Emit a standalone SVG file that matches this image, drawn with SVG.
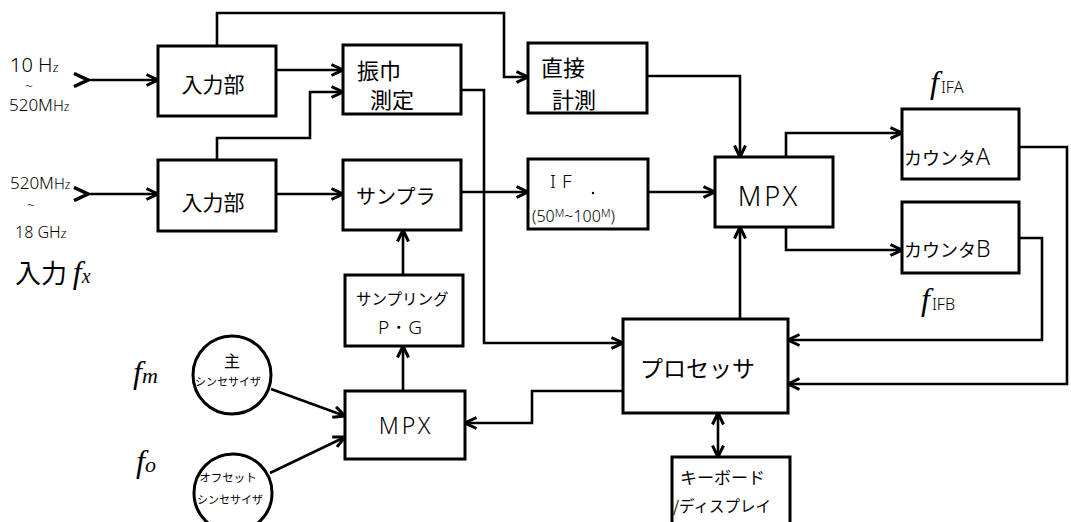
<svg xmlns="http://www.w3.org/2000/svg" width="1071" height="522" viewBox="0 0 1071 522">
<style>
.box{fill:#fff;stroke:#000;stroke-width:3}
.ln{fill:none;stroke:#000;stroke-width:2.6;stroke-linejoin:miter}
.arr{marker-end:url(#ah)}
.jp{font-family:"Noto Sans CJK JP","Noto Sans",sans-serif;fill:#000}
.lat{font-family:"Noto Sans","DejaVu Sans",sans-serif;fill:#000;font-weight:300}
.fi{font-family:"Liberation Serif",serif;font-style:italic;fill:#000}
</style>
<defs>
<marker id="ah" viewBox="0 0 14 14" refX="12.5" refY="7" markerWidth="14" markerHeight="14" markerUnits="userSpaceOnUse" orient="auto-start-reverse">
<path d="M1,1.5 L12.5,7 L1,12.5" fill="none" stroke="#000" stroke-width="3"/>
</marker>
<marker id="tl" viewBox="0 0 16 16" refX="15" refY="8" markerWidth="16" markerHeight="16" markerUnits="userSpaceOnUse" orient="auto">
<path d="M1,1.5 L15,8 L1,14.5" fill="none" stroke="#000" stroke-width="3.5"/>
</marker>
</defs>
<rect width="1071" height="522" fill="#fff"/>

<g id="connectors">
<path class="ln arr" d="M88,80 H158" style="marker-start:url(#tl)"/>
<path class="ln arr" d="M88,194 H158" style="marker-start:url(#tl)"/>
<path class="ln arr" d="M217,46 V13 H504 V77 H528"/>
<path class="ln arr" d="M276,70 H343"/>
<path class="ln arr" d="M217,160 V138 H310 V92 H343"/>
<path class="ln arr" d="M276,194 H343"/>
<path class="ln arr" d="M461,90 H484 V343 H623"/>
<path class="ln arr" d="M461,192 H528"/>
<path class="ln arr" d="M647,76 H740 V157"/>
<path class="ln arr" d="M648,192 H715"/>
<path class="ln arr" d="M786,157 V133 H902"/>
<path class="ln arr" d="M786,227 V250 H902"/>
<path class="ln arr" d="M1019,147 H1067 V384 H788"/>
<path class="ln arr" d="M1019,238 H1042 V340 H788"/>
<path class="ln arr" d="M740,319 V227"/>
<path class="ln arr" d="M623,391 H532 V423 H465"/>
<path class="ln arr" d="M718,413 V457" style="marker-start:url(#ah)"/>
<path class="ln arr" d="M403,275 V230"/>
<path class="ln arr" d="M403,391 V346"/>
<path class="ln arr" d="M271,389 L345,416"/>
<path class="ln arr" d="M270,473 L345,437"/>
</g>

<g id="labels">
<text class="lat" x="10" y="72" font-size="20">10 H<tspan font-size="13">z</tspan></text>
<text class="lat" x="25" y="91" font-size="14">~</text>
<text class="lat" x="9" y="111" font-size="17">520M<tspan font-size="15">H</tspan><tspan font-size="12">z</tspan></text>
<text class="lat" x="10" y="189" font-size="17">520M<tspan font-size="15">H</tspan><tspan font-size="12">z</tspan></text>
<text class="lat" x="27" y="210" font-size="14">~</text>
<text class="lat" x="15" y="238" font-size="16">18 GH<tspan font-size="13">z</tspan></text>
<text class="jp" x="15" y="283" font-size="26">入力 <tspan class="fi" font-size="32">f</tspan><tspan class="fi" font-size="20">x</tspan></text>
<text class="fi" x="133" y="383" font-size="32">f<tspan font-size="22">m</tspan></text>
<text class="fi" x="136" y="472" font-size="32">f<tspan font-size="22">o</tspan></text>
<text class="fi" x="930" y="93" font-size="32">f<tspan class="lat" font-style="normal" font-size="16" dx="2">IFA</tspan></text>
<text class="fi" x="921" y="310" font-size="32">f<tspan class="lat" font-style="normal" font-size="16" dx="2">IFB</tspan></text>
</g>

<g id="in1">
<rect class="box" x="158" y="46" width="118" height="70"/>
<text class="jp" x="213" y="92" font-size="21" text-anchor="middle">入力部</text>
</g>
<g id="in2">
<rect class="box" x="158" y="160" width="118" height="71"/>
<text class="jp" x="213" y="210" font-size="21" text-anchor="middle">入力部</text>
</g>
<g id="shinpuku">
<rect class="box" x="343" y="45" width="118" height="69"/>
<text class="jp" x="357" y="79" font-size="22">振巾</text>
<text class="jp" x="370" y="108" font-size="22">測定</text>
</g>
<g id="sampler">
<rect class="box" x="343" y="160" width="118" height="70"/>
<text class="jp" x="356" y="204" font-size="20">サンプラ</text>
</g>
<g id="direct">
<rect class="box" x="528" y="43" width="119" height="70"/>
<text class="jp" x="541" y="76" font-size="22">直接</text>
<text class="jp" x="552" y="108" font-size="22">計測</text>
</g>
<g id="if">
<rect class="box" x="528" y="159" width="120" height="70"/>
<text class="lat" x="550" y="188" font-size="19" letter-spacing="6">IF</text>
<circle cx="593" cy="193" r="1.2" fill="#000"/>
<text class="lat" x="532" y="222" font-size="16">(50<tspan font-size="11" dy="-5">M</tspan><tspan dy="5">~100</tspan><tspan font-size="11" dy="-5">M</tspan><tspan dy="5">)</tspan></text>
</g>
<g id="mpx">
<rect class="box" x="715" y="157" width="118" height="70"/>
<text class="lat" x="769" y="206" font-size="27" text-anchor="middle" letter-spacing="3">MPX</text>
</g>
<g id="counterA">
<rect class="box" x="902" y="109" width="117" height="70"/>
<text class="jp" x="904" y="165" font-size="18">カウンタ<tspan class="lat" font-size="23">A</tspan></text>
</g>
<g id="counterB">
<rect class="box" x="902" y="202" width="117" height="71"/>
<text class="jp" x="904" y="257" font-size="18">カウンタ<tspan class="lat" font-size="23">B</tspan></text>
</g>
<g id="processor">
<rect class="box" x="623" y="319" width="165" height="94"/>
<text class="jp" x="640" y="377" font-size="23">プロセッサ</text>
</g>
<g id="keyboard">
<rect class="box" x="672" y="457" width="118" height="80"/>
<text class="jp" x="680" y="484" font-size="17">キーボード</text>
<text class="jp" x="673" y="512" font-size="15.5">/ディスプレイ</text>
</g>
<g id="pg">
<rect class="box" x="345" y="275" width="118" height="71"/>
<text class="jp" x="356" y="305" font-size="15.5">サンプリング</text>
<text class="lat" x="400" y="334" font-size="19" text-anchor="middle">P・G</text>
</g>
<g id="mpx2">
<rect class="box" x="345" y="391" width="120" height="68"/>
<text class="lat" x="406" y="434" font-size="23" text-anchor="middle" letter-spacing="3">MPX</text>
</g>
<g id="synthMain">
<circle cx="232" cy="375" r="39" fill="#fff" stroke="#000" stroke-width="3"/>
<text class="jp" x="232" y="367" font-size="16" text-anchor="middle">主</text>
<text class="jp" x="228" y="386" font-size="11" text-anchor="middle">シンセサイザ</text>
</g>
<g id="synthOffset">
<circle cx="233" cy="493" r="39" fill="#fff" stroke="#000" stroke-width="3"/>
<text class="jp" x="228" y="482" font-size="11.5" text-anchor="middle">オフセット</text>
<text class="jp" x="230" y="504" font-size="11" text-anchor="middle">シンセサイザ</text>
</g>
</svg>
